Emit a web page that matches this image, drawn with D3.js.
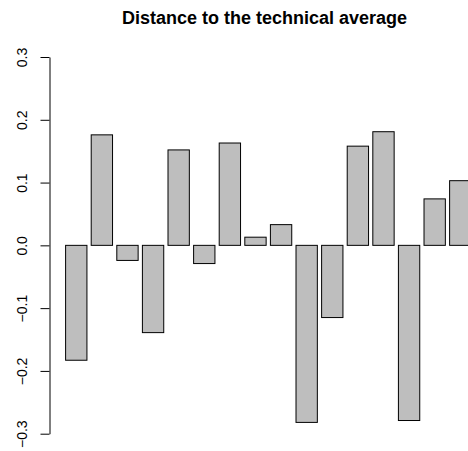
<!DOCTYPE html>
<html>
<head>
<meta charset="utf-8">
<script src="https://cdn.jsdelivr.net/npm/d3@7"></script>
<style>
  html, body { margin: 0; padding: 0; background: #fff; }
  svg { display: block; }
  text { font-family: "Liberation Sans", Arial, Helvetica, sans-serif; }
</style>
</head>
<body>
<svg id="chart" width="468" height="451"></svg>
<script>
const title = "Distance to the technical average";
const categories = ["1","2","3","4","5","6","7","8","9","10","11","12","13","14","15","16"];
const values = [-0.183, 0.176, -0.024, -0.139, 0.152, -0.029, 0.163, 0.013, 0.033,
                -0.282, -0.115, 0.158, 0.181, -0.279, 0.074, 0.103];
const yTicks = [-0.3, -0.2, -0.1, 0.0, 0.1, 0.2, 0.3];

const svg = d3.select("#chart");

const y = d3.scaleLinear().domain([-0.3, 0.3]).range([433.7, 57]);
const x = d3.scaleBand()
  .domain(categories)
  .range([65.6, 65.6 + 15 * 25.6 + 21.35])
  .paddingInner(1 / 6)
  .paddingOuter(0);

// bars
svg.append("g").selectAll("rect")
  .data(values)
  .join("rect")
  .attr("x", (d, i) => x(categories[i]))
  .attr("width", x.bandwidth())
  .attr("y", d => y(Math.max(0, d)))
  .attr("height", d => Math.abs(y(d) - y(0)))
  .attr("fill", "#bebebe")
  .attr("stroke", "#000")
  .attr("stroke-width", 1);

// y axis
const yAxis = d3.axisLeft(y)
  .tickValues(yTicks)
  .tickFormat(d3.format(".1f"))
  .tickSize(9)
  .tickSizeOuter(0);

const ga = svg.append("g")
  .attr("transform", "translate(49.5,0)")
  .call(yAxis);
ga.select(".domain").attr("stroke", "#000").attr("stroke-width", 1);
ga.selectAll(".tick line").attr("stroke", "#000").attr("stroke-width", 1);
ga.selectAll(".tick text")
  .attr("transform", "rotate(-90)")
  .attr("x", 0)
  .attr("y", -22.5)
  .attr("dy", 0)
  .attr("text-anchor", "middle")
  .attr("fill", "#000")
  .style("font-size", "14px")
  .style("font-family", "'Liberation Sans', Arial, Helvetica, sans-serif");

// title
svg.append("text")
  .attr("x", 264.5)
  .attr("y", 24)
  .attr("text-anchor", "middle")
  .style("font-size", "18px")
  .style("font-weight", "bold")
  .text(title);
</script>
</body>
</html>
